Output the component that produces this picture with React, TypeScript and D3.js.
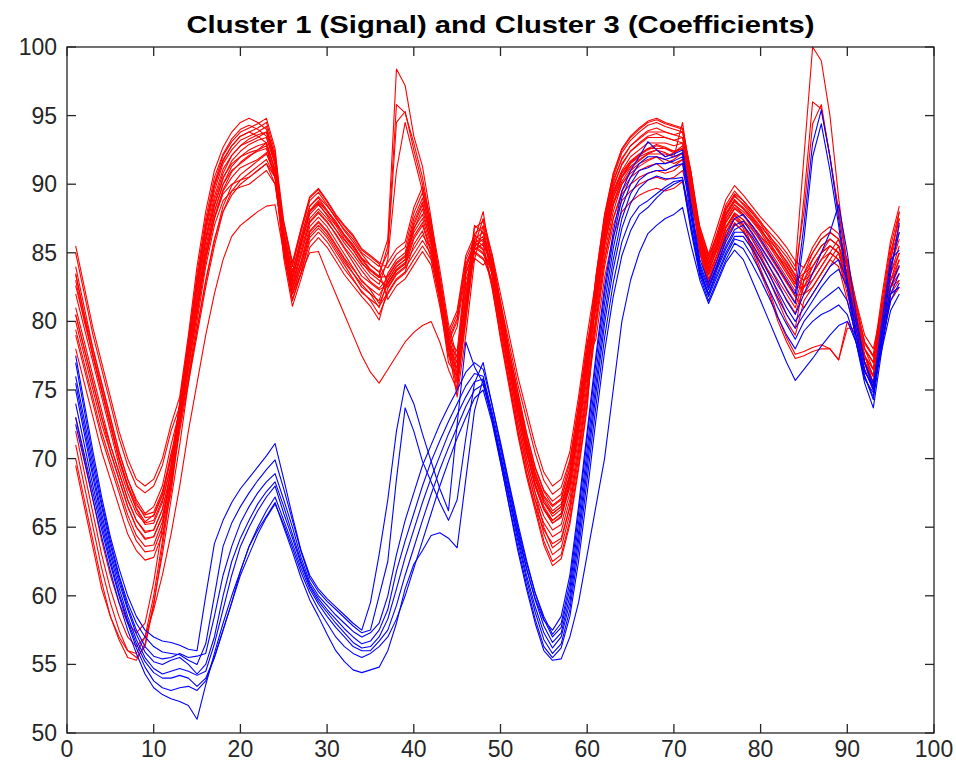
import React from "react";
import * as d3 from "d3";

const TITLE = "Cluster 1 (Signal) and Cluster 3 (Coefficients)";
const xTicks = [0, 10, 20, 30, 40, 50, 60, 70, 80, 90, 100];
const yTicks = [50, 55, 60, 65, 70, 75, 80, 85, 90, 95, 100];

// Cluster 1 (signal) — red traces, samples 1..96
const red01 = [85.5,82.5,79.5,77,74.5,72,70,68.5,68,68.5,70,72.5, 74.5,79,84,88,91,92.7,93.8,94.5,94.8,94.5,94,92, 87,84,86.5,88.8,89.4,88.5,87.5,86.7,86,85,84.5,84, 86,98.4,97.2,93.5,91.3,87.5,83,78.5,75,80,85.5,87.5, 85,82,79,76,73.5,71,69,68,68.5,70.5,74.5,79, 83,87.5,90.5,92.3,93.2,93.8,94.3,94.5,94.2,94,93.8,90.5, 86.5,84.5,86.5,88.5,89.5,88.8,88,87.2,86.5,85.8,85,84, 92,100,99,95,89,84,80,77,75.5,80,84,86.5];
const red02 = [84,81,78,75.5,73,70.5,68.5,67,66,66.5,68,71, 73.5,78,82.5,86.5,89.5,91.5,92.5,93.2,93.5,93.8,94.2,92, 86.3,83.3,85.8,88.1,88.8,88.1,87.3,86.3,85.5,84.6,83.8,83.3, 85.5,95.8,95.2,93,90.5,87,82.5,78,74.5,79,84.5,87, 84.5,81,77.5,74.5,71.5,69,67.3,66.5,67,69.3,73.5,78, 82.4,86.9,89.9,91.4,92.4,92.9,93.4,93.4,93.4,93.2,93.4,90.4, 86.3,84.3,85.8,87.8,88.8,88.3,87.6,86.8,85.8,84.8,83.8,82.8, 89,96,95.5,92,88,84,80,77,75,80.5,84.5,88];
const red03 = [83,80,77.5,75,72.5,70,68,66.3,65.2,65.3,66.8,69.5, 73,77,81,85,88,90,91.3,92,92.5,92.8,93,91, 86.6,83.6,86.1,88.4,89,88.1,87.1,86.3,85.6,84.6,84.1,83.6, 85,94.5,95.3,92.5,90,86.5,82,77.5,75.5,81,86,88, 84,80.5,77,74,71,68.5,66.8,65.8,66.3,68.5,72.5,77, 81.5,86,89,90.5,91.3,91.8,92.2,92.5,92.3,92,94.5,90, 86.2,84.2,86.2,88.2,89.2,88.5,87.7,86.9,86.2,85.5,84.7,83.7, 88,94.4,95.8,92,88,84,80,77.5,76,81,85,87.5];
const red04 = [82,79.5,77,74.5,72,69.5,67.5,66,65.3,65.5,67,69.5, 74,78.5,83.5,87.5,90.5,92.2,93.3,94,94.3,94,93.5,91.5, 85.7,82.7,85.2,87.5,88.2,87.5,86.7,85.7,84.9,84,83.2,82.7, 84.5,91,94.5,92,89.5,86,81.5,77,76,82,87,86.5, 83.5,80,76.5,73,70,67.5,65.8,64.8,65.2,67.5,71.5,76, 82.6,87.1,90.1,91.9,92.8,93.4,93.9,94.1,93.8,93.6,93.4,90.1, 85.7,83.7,85.2,87.2,88.2,87.7,87,86.2,85.2,84.2,83.2,82.2, 83.5,85,86,86.5,86,84,81,78,77,81.5,85.5,88];
const red05 = [81,78.5,76,73.5,71,69,67,65.5,64.6,64.8,66.3,69, 73.1,77.6,82.1,86.1,89.1,91.1,92.1,92.8,93.1,93.4,93.8,91.6, 85.5,82,84,86.5,87.2,86.5,85.5,84.5,83.5,82.5,82,81.5, 83.5,84.5,85,87.5,89,86.5,83,79,76.5,81,86,86.5, 84.4,80.9,77.4,74.4,71.4,68.9,67.2,66.2,66.7,68.9,72.9,77.4, 82,86.5,89.5,91,92,92.5,93,93,93,92.8,93,90, 85.5,83,84.5,86.5,87.5,87,86,85,84,83,82,81, 83,84,85,85.5,85,83,80,77.5,76.5,80,83,85];
const red06 = [80,77.5,75,72.5,70.5,68.5,66.5,65,64.2,64.3,65.8,68.5, 73.4,77.4,81.4,85.4,88.4,90.4,91.7,92.4,92.9,93.2,93.4,91.4, 86,83,85.5,87.8,88.5,87.8,87,86,85.2,84.3,83.5,83, 82.5,83.5,84,86,87,85,82,78.5,80,84,85.5,85, 83,79,75.5,72,69,66.5,64,62.5,63,65.5,69.5,74, 80.5,85,88,90,91,91.5,91.8,92,91.5,91.8,92.3,89, 86,84,85.5,87.5,88.5,88,87.3,86.5,85.5,84.5,83.5,82.5, 82.5,83,84,85,84.5,82,79.5,77,75.5,79,82,83];
const red07 = [79,76.5,74,71.5,69.5,67.5,65.5,64,63.2,63.3,65,68, 72,75.5,79,82.5,85.5,88,89.5,90.3,90.8,91.3,91.8,90.5, 85,81.5,83.5,85.8,86.5,85.8,84.8,83.8,83,82.2,81.5,80.5, 82,83,83.5,84.5,85.5,84.5,81.5,78,77,83,85,84.5, 84,80.5,77,73.5,70.5,68,66.3,65.3,65.7,68,72,76.5, 81.6,86.1,89.1,90.6,91.6,92.1,92.6,92.6,92.6,92.4,92.6,89.6, 85,82.5,84,86,87.2,86.5,85.5,84.3,83,81.5,80,79, 81.5,82.5,83.5,84.5,85.5,84,81,78.5,77.5,80.5,83,84.5];
const red08 = [78,75.5,73,70.5,68.5,66.5,64.5,63.3,62.6,62.8,64.5,67.5, 72.5,76,80,84,87,88.8,89.5,89.8,90,90.5,91,90, 85.9,82.4,84.4,86.9,87.6,86.9,85.9,84.9,83.9,82.9,82.4,81.9, 83,84,84.5,87,88.5,86,82.5,78.5,76,80.5,85.5,86, 83.5,79.5,76,72.5,69.5,67,64.5,63,63.5,66,70,74.5, 79.5,84,87,88.8,89.5,90,90.3,90.5,90.3,90.5,91,88.5, 85.9,83.4,84.9,86.9,87.9,87.4,86.4,85.4,84.4,83.4,82.4,81.4, 83.5,84.5,85.5,86,85.5,83.5,80.5,78,77,80.5,83.5,85.5];
const red09 = [83.4,80.4,77.4,74.9,72.4,69.9,67.9,66.4,65.4,65.9,67.4,70.4, 72.6,76.6,80.6,84.6,87.6,89.6,90.9,91.6,92.1,92.4,92.6,90.6, 85.5,82,84,86.3,87,86.3,85.3,84.3,83.5,82.7,82,81, 83,84,84.5,86.5,87.5,85.5,82.5,79,80.5,84.5,86,85.5, 84.4,81.4,78.4,75.4,72.9,70.4,68.4,67.4,67.9,69.9,73.9,78.4, 81.9,86.4,89.4,90.9,91.7,92.2,92.6,92.9,92.7,92.4,92.6,90.4, 85.9,83.9,85.9,87.9,88.9,88.2,87.4,86.6,85.9,85.2,84.4,83.4, 83,84.5,85.5,86,85.5,83.5,80.5,77.5,76.5,81,85,87.5];
const red10 = [83.5,80.5,78,75.5,73,70.5,68.5,66.8,65.7,65.8,67.3,70, 72.4,75.9,79.4,82.9,85.9,88.4,89.9,90.7,91.2,91.7,92.2,90.9, 86.6,83.6,86.1,88.4,89.1,88.4,87.6,86.6,85.8,84.9,84.1,83.6, 81.6,82.6,83.1,84.1,85.1,84.1,81.1,77.6,76.6,82.6,84.6,84.1, 84.9,81.4,77.9,74.9,71.9,69.4,67.7,66.9,67.4,69.7,73.9,78.4, 81,85.5,88.5,90.5,91.5,92,92.3,92.5,92,92.3,92.8,89.5, 85.5,83,84.5,86.5,87.7,87,86,84.8,83.5,82,80.5,79.5, 83,83.5,84.5,85.5,85,82.5,80,77.5,76,79.5,82.5,83.5];
const red11 = [82.6,80.1,77.6,75.1,72.6,70.1,68.1,66.6,65.9,66.1,67.6,70.1, 73.8,78.3,82.8,86.8,89.8,91.8,92.8,93.5,93.8,94.1,94.5,92.3, 87.3,84.3,86.8,89.1,89.7,88.8,87.8,87,86.3,85.3,84.8,84.3, 83.9,84.9,85.4,87.9,89.4,86.9,83.4,79.4,76.9,81.4,86.4,86.9, 83.5,80,76.5,73.5,70.5,68,66.3,65.3,65.8,68,72,76.5, 83.3,87.8,90.8,92.6,93.5,94.1,94.6,94.8,94.5,94.3,94.1,90.8, 86.6,84.6,86.1,88.1,89.1,88.6,87.9,87.1,86.1,85.1,84.1,83.1, 82,83,84,85,86,84.5,81.5,79,78,81,83.5,85];
const red12 = [80.5,78,75.5,73,70.5,68.5,66.5,65,64.1,64.3,65.8,68.5, 73.5,78,83,87,90,91.7,92.8,93.5,93.8,93.5,93,91, 85.1,81.6,83.6,86.1,86.8,86.1,85.1,84.1,83.1,82.1,81.6,81.1, 82.1,83.1,83.6,85.6,86.6,84.6,81.6,78.1,79.6,83.6,85.1,84.6, 83,79.5,76,72.5,69.5,67,65.3,64.3,64.7,67,71,75.5, 82.8,87.3,90.3,91.8,92.8,93.3,93.8,93.8,93.8,93.6,93.8,90.8, 85.1,82.6,84.1,86.1,87.1,86.6,85.6,84.6,83.6,82.6,81.6,80.6, 82.5,83.5,84.5,85,84.5,82.5,79.5,77,76,79.5,82.5,84.5];
const red13 = [80.5,78,75.5,73,71,69,67,65.5,64.7,64.8,66.3,69, 73,76.5,80.5,84.5,87.5,89.3,90,90.3,90.5,91,91.5,90.5, 84.6,81.1,83.1,85.4,86.1,85.4,84.4,83.4,82.6,81.8,81.1,80.1, 82.4,83.4,83.9,84.9,85.9,84.9,81.9,78.4,77.4,83.4,85.4,84.9, 84,80.5,77,74,71,68.5,66.8,66,66.5,68.8,73,77.5, 81,85.5,88.5,90,90.8,91.3,91.7,92,91.8,91.5,91.8,89.5, 85,82.8,84.5,86.5,87.5,86.8,85.2,83.5,82,80,78.5,77.3, 77.5,77.8,78,78,77.2,80,79,77,75,79,82,82.5];
const red14 = [85,82,79,76.5,74,71.5,69.5,68,67.5,68,69.5,72, 73.8,77.8,81.8,85.8,88.8,90.8,92.1,92.8,93.3,93.6,93.8,91.8, 85.4,82.4,84.9,87.2,87.9,87.2,86.4,85.4,84.6,83.7,82.9,82.4, 83.2,84.2,84.7,87.2,88.7,86.2,82.7,78.7,76.2,80.7,85.7,86.2, 83.7,80.2,76.7,73.7,70.7,68.2,66.5,65.5,66,68.2,72.2,76.7, 80,84.5,87.5,89.3,90,90.5,90.8,91,90.8,91,91.5,89, 85.4,83.4,84.9,86.9,87.9,87.4,86.7,85.9,84.9,83.9,82.9,81.9, 82,82.5,83.5,84.5,84,81.5,79,76.5,75,78.5,81.5,82.5];
const red15 = [79.4,76.9,74.4,71.9,69.9,67.9,65.9,64.4,63.6,63.7,65.4,68.4, 74.1,78.6,83.1,87.1,90.1,92.1,93.1,93.8,94.1,94.4,94.8,92.6, 86.2,83.2,85.7,88,88.6,87.7,86.7,85.9,85.2,84.2,83.7,83.2, 83.3,84.3,84.8,86.8,87.8,85.8,82.8,79.3,80.8,84.8,86.3,85.8, 84,80,76.5,73,70,67.5,65,63.5,64,66.5,70.5,75, 82.2,86.7,89.7,91.5,92.4,93,93.5,93.7,93.4,93.2,93,89.7, 86.9,84.9,86.9,88.9,89.9,89.2,88.4,87.6,86.9,86.2,85.4,84.4, 83.9,85.4,86.4,86.9,86.4,84.4,81.4,78.4,77.4,81.9,85.9,88.4];
const red16 = [73,70,67,64,61.5,59.5,58,57.3,58,61,65,69.5, 74,78.5,82.5,86,88.5,90.5,91.5,92,92.3,92.5,93,91, 86.2,83.2,85.7,88,88.7,88,87.2,86.2,85.4,84.5,83.7,83.2, 84.3,85.3,85.8,88.3,89.8,87.3,83.8,79.8,77.3,81.8,86.8,87.3, 84.8,81.3,77.8,74.8,71.8,69.3,67.6,66.6,67.1,69.3,73.3,77.8, 83.2,87.7,90.7,92.5,93.4,94,94.5,94.7,94.4,94.2,94,90.7, 86.8,84.8,86.3,88.3,89.3,88.8,88.1,87.3,86.3,85.3,84.3,83.3, 82.5,84,85,85.5,85,83,80,77,76,80.5,84.5,87];
const red17 = [72,69,66,63,60.5,58.5,57,56.3,57,60,64,68.5, 73,77.5,81.5,85,88,90,91,91.5,92,92.5,92.8,90.5, 86.3,82.8,84.8,87.3,88,87.3,86.3,85.3,84.3,83.3,82.8,82.3, 82.7,83.7,84.2,86.2,87.2,85.2,82.2,78.7,80.2,84.2,85.7,85.2, 83.5,80,76.5,73.5,70.5,68,66.3,65.5,66,68.3,72.5,77, 81.2,85.7,88.7,90.2,91.2,91.7,92.2,92.2,92.2,92,92.2,89.2, 86.3,83.8,85.3,87.3,88.3,87.8,86.8,85.8,84.8,83.8,82.8,81.8, 81,82,83,84,85,83.5,80.5,78,77,80,82.5,84];
const red18 = [71,68,65,62,59.5,57.5,56,55.5,56.3,59.3,63.5,68, 72.5,77,81,84.5,87.5,89.5,90.5,91.2,91.5,91.8,92.3,90.5, 87.2,84.2,86.7,89,89.6,88.7,87.7,86.9,86.2,85.2,84.7,84.2, 82.8,83.8,84.3,85.3,86.3,85.3,82.3,78.8,77.8,83.8,85.8,85.3, 82.5,79,75.5,72,69,66.5,64.8,63.8,64.2,66.5,70.5,75, 80,84.5,87.5,89.5,90.5,91,91.3,91.5,91,91.3,91.8,88.5, 86.2,84.2,85.7,87.7,88.7,88.2,87.5,86.7,85.7,84.7,83.7,82.7, 84,85,86,86.5,86,84,81,78.5,77.5,81,84,86];
const red19 = [70,67,64,61,58.5,56.8,55.5,55.3,56.5,59.5,63,67, 71,75.5,79.5,83,86,88,89.2,90,90.5,91,91.5,90, 85.8,82.3,84.3,86.6,87.3,86.6,85.6,84.6,83.8,83,82.3,81.3, 82.7,83.7,84.2,86.7,88.2,85.7,82.2,78.2,75.7,80.2,85.2,85.7, 82.7,78.7,75.2,71.7,68.7,66.2,63.7,62.2,62.7,65.2,69.2,73.7, 81.8,86.3,89.3,90.8,91.6,92.1,92.5,92.8,92.6,92.3,92.6,90.3, 85.5,83.5,85.5,87.5,88.5,87.8,87,86.2,85.5,84.8,84,83, 83.5,84,85,86,85.5,83,80.5,78,76.5,80,83,84];
const red20 = [69.5,66.5,63.5,60.5,58.5,57,56,55.8,57,59,61.5,64.5, 68,72,75.5,79,82,84.5,86.2,87,87.5,88,88.4,88.5, 85,82,83.5,85,85.1,83.5,82,80.5,79,77.5,76.3,75.5, 76.5,77.5,78.5,79.2,79.7,80,78.5,76.5,75,81,85.5,86, 84.2,80.7,77.2,74.2,71.2,68.7,67,66,66.5,68.7,72.7,77.2, 78.7,83.2,86.2,88,88.7,89.2,89.5,89.7,89.5,89.7,90.2,87.7, 85.3,83.1,84.8,86.8,87.8,87.1,85.5,83.8,82.3,80.3,78.8,77.6, 77.8,78.1,78.3,78,77.2,79.5,79.5,77.5,75.5,79.5,82.5,83];

// Cluster 3 (coefficients) — blue traces, samples 1..96
const blue1 = [77.5,74,70.5,67.2,64.3,62,60,58.5,57.5,57,56.7,56.6, 56.4,56.1,56,60,63.8,65.5,66.8,67.8,68.6,69.4,70.2,71.1, 68.5,65.8,63.3,61.5,60.5,59.8,59.2,58.6,58,57.5,59.5,63, 67,72,75.4,74,71.8,69.8,67.8,66.2,72.5,78.5,76.7,75.5, 73,70.2,67.3,64.5,62,59.8,58.2,57.5,58.5,61.5,66.5,72, 77.5,82.5,86.5,89.5,91,92,93.1,92.5,92,92.2,92.5,88.5, 84.5,82.8,84.5,86.2,87.5,87.8,87,86,85,84,83,82, 87,93,95.4,92,87.5,83,79,76,74.5,79,83.5,87.2];
const blue2 = [77,73.5,70,66.8,64,61.5,59.5,58,57,56.3,55.9,55.8, 55.7,55.3,55,56.5,60,63.6,65.3,66.5,67.5,68.4,69.2,69.9, 67.8,65.5,63.2,61.3,60.3,59.6,59,58.4,57.8,57.3,57.5,60, 62.5,68.5,73.7,72,69.8,68.3,66.8,65.5,67,71.5,75.5,77, 74,71,68,65,62.4,60.2,58.5,57.2,58,61,66,71.5, 77,82,86,89,90.5,91.5,92,92,91.8,92,92.3,88, 84.2,82.5,84.2,85.8,87,87.3,86.5,85.5,84.5,83.5,82.3,81.3, 86,92,94.4,91,87,82.5,78.5,75.8,74.8,79.5,84,86.5];
const blue3 = [76,72.8,69.5,66.5,63.7,61.3,59.2,57.5,56.3,55.6,55.4,55.5, 55.8,55.5,55.6,55.8,58.5,61.5,63.6,65.3,66.5,67.5,68.3,68.9, 67,65,62.8,61,60,59.3,58.6,58,57.4,57,57.3,58, 60,63,65.5,67.5,69.5,71,72.5,73.8,75,76.3,77,76.5, 74,71.2,68.2,65.3,62.6,60.2,58.3,57,57.7,60.5,65.3,70.7, 76.2,81.3,85.3,88.3,90,91,91.2,91.5,91.5,91.7,92,88, 84,82.3,84,85.5,86.7,87,86.2,85.2,84,82.8,81.5,80.5, 82,83.5,85,86.5,88.5,85,80.5,77,75.2,80,84.5,85.2];
const blue4 = [75.5,72.3,69,66,63.3,61,59,57.2,55.9,55.2,55,55.3, 55.5,55,54.3,55,57,60,62.5,64.2,65.5,66.7,67.6,68.3, 66.5,64.5,62.5,60.8,59.8,59,58.3,57.6,57,56.5,56.7,57.5, 59,61.8,64,66,68,69.8,71.3,72.7,74,75.3,76.2,76, 73.5,70.7,67.7,64.8,62,59.7,57.8,56.6,57.3,60,64.6,70, 75.4,80.5,84.5,87.5,89.3,90.3,90.8,91,91,91.3,91.5,87.5, 83.8,82,83.8,85.3,86.5,86.5,85.7,84.6,83.4,82.2,81,80, 81,82,83,84,84.5,83,80,77,75.5,79,82.5,84.1];
const blue5 = [75,71.8,68.6,65.6,63,60.6,58.5,56.8,55.5,54.7,54.3,54.5, 54.7,54.5,54.2,54.5,56.5,59,61.5,63.6,65,66.2,67.2,68, 66,64.2,62.3,60.7,59.6,58.8,58,57.3,56.6,56.2,56.3,57, 58.3,60.5,62.8,64.8,66.8,68.6,70.2,71.8,73.2,74.5,75.6,75.8, 73.2,70.3,67.3,64.3,61.5,59.2,57.3,56.2,57,59.5,64,69.3, 74.7,79.8,83.8,86.8,88.6,89.7,90.3,90.6,90.4,90.4,90.5,87, 83.6,82,83.5,85,86.2,86.2,85.3,84.2,83,81.7,80.5,79.5, 80.5,81.5,82.5,83.3,83.8,82.5,79.5,76.5,75,78.5,81.5,82.8];
const blue6 = [74,71,68,65.2,62.6,60.2,58.2,56.5,55.2,54.4,54,54, 54.2,54,53.4,54,55.5,57.5,59.5,61.8,63.6,65,66.2,67.2, 65.5,63.8,62,60.5,59.4,58.5,57.7,57,56.3,56,56,56.7, 57.5,59.3,61.5,63.5,65.5,67.4,69.2,70.8,72.3,73.8,75,75.4, 73,70,67,64,61.2,58.8,56.8,55.8,56.5,59,63.3,68.5, 73.8,78.8,82.8,85.8,87.5,88.4,88.8,89.3,89.8,90.2,90.3,86.8, 83.5,81.8,83.3,84.8,86,85.8,84.8,83.6,82.3,81,79.8,78.7, 80,80.8,81.5,82,82.5,81.5,79,76.3,75.3,78,80.8,82];
const blue7 = [73,70.3,67.5,64.8,62.3,60,58,56.2,54.8,53.8,53.3,53.1, 53.3,53.4,53.1,53.8,55.5,57.5,59.5,61.5,63,64.5,65.7,66.7, 65.2,63.5,61.7,60.2,59,58,57,56.3,55.8,55.5,55.8,56.3, 57,58.3,60,62,64,66,68,69.8,71.5,73,74.4,75, 72.7,69.7,66.6,63.6,60.8,58.3,56.3,55.5,56.2,58.5,62.5,67.5, 72.8,77.8,81.8,84.8,86.6,87.8,88.3,89,89.6,90,90.3,86.5, 83.3,81.5,83,84.5,85.7,85.3,84.2,83,81.7,80.3,79,78, 79.3,80,80.5,80.8,81.2,80.5,78.5,76,74.3,78.5,82,83.5];
const blue8 = [72.5,69.8,67,64.3,61.8,59.5,57.5,55.8,54.3,53.3,52.8,52.5, 52.3,52,51,53.5,55.8,58,60,61.8,63.6,64.8,65.8,66.8, 65,63.2,61.3,59.7,58.5,57.2,56,55.2,54.6,54.4,54.6,54.8, 56,58,60.5,62.3,63.3,64.4,64.6,64.2,63.5,68.5,73.5,75.8, 73,69.8,66.5,63.3,60.5,58,56,55.3,55.4,57,59.5,63, 66.5,70,75,80,83,85,86.4,87,87.5,87.8,88.3,85.5, 83,81.3,82.8,84.3,85.2,84.5,83,81.5,80,78.5,77,75.7, 76.5,77.3,78.2,79,79.7,80,78.5,75.5,73.7,78,82,82.5];

const redSeries = [red01, red02, red03, red04, red05, red06, red07, red08, red09, red10,
  red11, red12, red13, red14, red15, red16, red17, red18, red19, red20];
const blueSeries = [blue1, blue2, blue3, blue4, blue5, blue6, blue7, blue8];

const W = 956;
const H = 776;
const M = { left: 67, right: 934, top: 47, bottom: 733 };
const AXIS = "#262626";
const FONT = "'Liberation Sans', Arial, Helvetica, sans-serif";

export default function App() {
  const x = d3.scaleLinear().domain([0, 100]).range([M.left, M.right]);
  const y = d3.scaleLinear().domain([50, 100]).range([M.bottom, M.top]);
  const line = d3
    .line<number>()
    .x((_, i) => x(i + 1))
    .y((d) => y(d));
  const tick = 9;

  return (
    <svg
      width={W}
      height={H}
      viewBox={`0 0 ${W} ${H}`}
      style={{ position: "absolute", left: 0, top: 0, background: "#fff" }}
    >
      <rect x={0} y={0} width={W} height={H} fill="#fff" />
      <defs>
        <clipPath id="plot">
          <rect x={M.left} y={M.top - 1} width={M.right - M.left} height={M.bottom - M.top + 2} />
        </clipPath>
      </defs>
      <g clipPath="url(#plot)" fill="none" strokeWidth={1.1} strokeLinejoin="round">
        {redSeries.map((s, i) => (
          <path key={"r" + i} d={line(s) || ""} stroke="#ff0000" />
        ))}
        {blueSeries.map((s, i) => (
          <path key={"b" + i} d={line(s) || ""} stroke="#0000ff" />
        ))}
      </g>
      <rect
        x={M.left}
        y={M.top}
        width={M.right - M.left}
        height={M.bottom - M.top}
        fill="none"
        stroke={AXIS}
        strokeWidth={1.3}
      />
      <g stroke={AXIS} strokeWidth={1.3}>
        {xTicks.map((t) => (
          <g key={"xt" + t}>
            <line x1={x(t)} x2={x(t)} y1={M.bottom} y2={M.bottom - tick} />
            <line x1={x(t)} x2={x(t)} y1={M.top} y2={M.top + tick} />
          </g>
        ))}
        {yTicks.map((t) => (
          <g key={"yt" + t}>
            <line x1={M.left} x2={M.left + tick} y1={y(t)} y2={y(t)} />
            <line x1={M.right} x2={M.right - tick} y1={y(t)} y2={y(t)} />
          </g>
        ))}
      </g>
      <g fill={AXIS} fontFamily={FONT} fontSize={23}>
        {xTicks.map((t) => (
          <text key={"xl" + t} x={x(t)} y={M.bottom + 24} textAnchor="middle">
            {t}
          </text>
        ))}
        {yTicks.map((t) => (
          <text key={"yl" + t} x={M.left - 10} y={y(t) + 8} textAnchor="end">
            {t}
          </text>
        ))}
      </g>
      <text
        x={(M.left + M.right) / 2}
        y={33}
        textAnchor="middle"
        fontFamily={FONT}
        fontWeight="bold"
        fontSize={24}
        fill="#000"
        textLength={628}
        lengthAdjust="spacingAndGlyphs"
      >
        {TITLE}
      </text>
    </svg>
  );
}
